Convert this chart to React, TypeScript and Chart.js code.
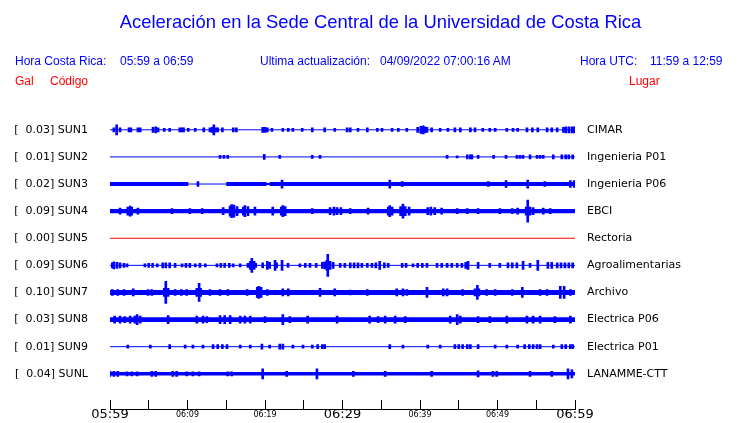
import { useEffect, useRef } from 'react';
import { Chart, registerables } from 'chart.js';

Chart.register(...registerables);

// ---- labels ----
const traceCodes = ['SUN1', 'SUN2', 'SUN3', 'SUN4', 'SUN5', 'SUN6', 'SUN7', 'SUN8', 'SUN9', 'SUNL'];
const traceGal = ['0.03', '0.01', '0.02', '0.09', '0.00', '0.09', '0.10', '0.03', '0.01', '0.04'];
const traceSites = ['CIMAR', 'Ingenieria P01', 'Ingenieria P06', 'EBCI', 'Rectoria', 'Agroalimentarias', 'Archivo', 'Electrica P06', 'Electrica P01', 'LANAMME-CTT'];
const traceColors = ['#0000ff', '#0000ff', '#0000ff', '#0000ff', '#ff0000', '#0000ff', '#0000ff', '#0000ff', '#0000ff', '#0000ff'];
const xTickLabels = ['05:59', '', '06:09', '', '06:19', '', '06:29', '', '06:39', '', '06:49', '', '06:59'];

// ---- continuous background level: [startMinute, endMinute, halfAmplitude] ----
const sun1Band = [[0, 60, 0]];
const sun2Band = [[0, 60, 0]];
const sun3Band = [[0, 10.1, 2], [10.1, 15.0, 0], [15.0, 20.2, 2], [20.2, 20.6, 1], [20.6, 60, 2]];
const sun4Band = [[0, 60, 2.2]];
const sun5Band = [[0, 60, 0]];
const sun6Band = [[0, 60, 0]];
const sun7Band = [[0, 60, 2.5]];
const sun8Band = [[0, 60, 2.3]];
const sun9Band = [[0, 60, 0]];
const sunLBand = [[0, 60, 1.7]];

// ---- bursts: [minute, halfAmplitude] ----
const sun1Spikes = [[0.5, 2], [0.86, 5], [1.3, 2], [2.45, 2], [2.7, 2], [3.6, 2], [3.9, 2], [5.55, 2.5], [5.9, 3], [6.2, 2], [7.0, 1.5], [7.7, 1.5], [9.0, 2], [9.3, 2], [9.5, 2], [10.1, 1.5], [11.0, 1.5], [12.1, 2], [12.9, 2], [13.2, 2.5], [13.4, 5], [13.7, 2], [13.9, 2], [14.5, 2], [15.9, 2], [16.3, 2], [19.7, 2.5], [20.0, 2.5], [20.3, 2], [20.9, 1.5], [22.3, 1.5], [23.0, 1.5], [23.6, 1.5], [24.8, 1.5], [26.1, 2], [27.7, 2], [29.0, 1.5], [30.6, 2], [31.0, 2], [32.0, 1.5], [33.2, 2], [34.5, 1.5], [35.1, 1.5], [36.4, 1.5], [37.2, 1.5], [38.3, 1.5], [39.7, 2.5], [40.1, 3.5], [40.4, 4], [40.6, 3], [40.9, 2.5], [41.5, 2], [42.6, 1.5], [43.6, 1.5], [44.5, 2], [45.2, 2], [46.5, 2], [47.1, 2], [48.1, 1.5], [49.0, 1.5], [49.7, 1.5], [51.2, 1.5], [52.0, 1.5], [52.6, 1.5], [53.8, 2], [54.5, 2], [55.2, 2], [56.4, 2], [57.0, 2], [57.7, 2], [58.5, 2.5], [58.8, 3], [59.2, 3], [59.6, 3], [59.9, 3]];
const sun2Spikes = [[14.2, 1.5], [14.7, 1.5], [15.2, 1.5], [19.9, 2.5], [21.9, 1.5], [26.1, 1.5], [27.1, 1.5], [43.5, 1.5], [44.8, 1], [46.1, 2], [46.5, 2], [46.7, 2], [47.5, 1.5], [49.5, 1.5], [51.1, 1.5], [52.5, 1.5], [52.9, 1.5], [53.3, 1.5], [54.2, 2], [55.1, 1.5], [55.5, 1.5], [55.9, 1.5], [57.2, 2], [58.3, 2], [58.8, 2], [59.2, 2], [59.7, 2]];
const sun3Spikes = [[11.35, 2.5], [22.2, 4], [36.1, 4], [37.7, 2.5], [48.8, 2.5], [51.1, 3.5], [53.9, 4], [56.1, 2.5], [59.4, 3.5], [59.9, 3.5]];
const sun4Spikes = [[1.3, 3], [2.3, 4], [2.6, 5], [2.8, 4], [3.6, 3], [8.0, 2.5], [10.3, 2.5], [11.9, 2.5], [14.6, 3.5], [15.5, 5], [15.7, 6.5], [16.0, 6], [16.4, 4.5], [17.2, 4], [17.4, 5.5], [17.8, 4.5], [18.7, 4], [21.0, 4], [22.1, 4], [22.3, 5.5], [22.6, 4.5], [26.1, 2.5], [28.4, 3.5], [28.9, 4], [29.3, 3.5], [29.8, 3.5], [31.0, 2.5], [33.3, 3], [35.9, 4], [36.1, 5.5], [36.4, 4], [37.5, 4.5], [37.8, 7], [38.1, 4.5], [38.6, 4], [41.0, 3.5], [41.4, 4], [41.9, 3.5], [42.8, 3], [44.8, 2.5], [46.1, 2.5], [47.5, 2.5], [50.3, 2.5], [51.9, 2.5], [52.6, 3], [53.7, 4], [53.9, 11], [54.2, 4], [54.6, 3.5], [55.9, 3], [56.8, 2.5]];
const sun5Spikes: number[][] = [];
const sun6Spikes = [[0.3, 2.5], [0.5, 3.5], [0.9, 3], [1.3, 2.5], [1.8, 2], [2.2, 1.5], [4.5, 1.5], [5.0, 2], [5.5, 2], [6.1, 1.5], [6.8, 2.5], [7.2, 2.5], [7.7, 2.5], [8.4, 2], [9.3, 1.5], [9.8, 2], [10.3, 2], [11.0, 1.5], [11.6, 2], [12.3, 1.5], [13.8, 1.5], [14.3, 2], [14.8, 2], [15.4, 2], [15.9, 1.5], [16.8, 1.5], [17.8, 2], [18.1, 4], [18.3, 7], [18.6, 4], [18.8, 2], [19.7, 2.5], [20.3, 4], [20.6, 3], [21.3, 5], [21.5, 2.5], [22.2, 5], [22.97, 2], [24.5, 1.5], [25.2, 2], [25.8, 2], [26.6, 2], [27.4, 3], [27.7, 3.5], [28.0, 5], [28.1, 11], [28.4, 4], [28.8, 3], [29.7, 2], [30.3, 2], [31.0, 2.5], [31.5, 2.5], [32.0, 2.5], [32.5, 2], [33.2, 2], [33.8, 2], [34.3, 2.5], [34.8, 4], [35.4, 2.5], [35.9, 2], [37.7, 2], [38.2, 2], [39.1, 1.5], [39.7, 2], [40.3, 2], [40.9, 2], [42.2, 2], [42.8, 2], [43.5, 2], [44.1, 2], [44.8, 2], [45.4, 2], [45.9, 3], [46.2, 4], [47.5, 3], [49.0, 2], [50.3, 2], [51.35, 2.5], [51.9, 2.5], [52.5, 2.5], [53.3, 4], [54.2, 2], [55.2, 5], [56.5, 3], [57.0, 3], [57.7, 2.5], [58.2, 2.5], [58.7, 2.5], [59.2, 2.5], [59.7, 2.5]];
const sun7Spikes = [[0.3, 3], [1.0, 3], [1.8, 3], [3.0, 3.5], [4.9, 3], [5.4, 3], [7.0, 4], [7.2, 11], [7.5, 4], [8.4, 3], [9.2, 3], [9.9, 3], [11.2, 4], [11.5, 9], [11.7, 4], [12.9, 3], [14.2, 3], [15.2, 3], [17.7, 3], [19.0, 5], [19.2, 6], [19.5, 5], [20.3, 3], [22.3, 3.5], [23.0, 3.5], [27.1, 4], [29.0, 3.5], [31.0, 2.5], [33.2, 3], [37.0, 3.5], [37.8, 3.5], [38.3, 3], [40.9, 5], [43.0, 3.5], [43.5, 3.5], [45.5, 3], [47.1, 3.5], [47.4, 7], [47.6, 3.5], [48.6, 3], [49.7, 3], [51.9, 3], [53.2, 5], [55.5, 3], [56.4, 3], [58.1, 6], [58.6, 6], [59.4, 3]];
const sun8Spikes = [[0.6, 3.5], [1.3, 3.5], [1.9, 3], [2.6, 3.5], [3.2, 3.5], [3.5, 5], [3.9, 3.5], [7.5, 4], [11.2, 3.5], [12.0, 3.5], [12.5, 3], [14.2, 4], [14.8, 4], [15.5, 4], [16.8, 3.5], [17.4, 3.5], [18.1, 3.5], [20.0, 3], [22.3, 5], [23.2, 3], [25.5, 3.5], [29.3, 3.5], [33.5, 3.5], [34.6, 3], [35.5, 3.5], [36.8, 3.5], [38.1, 3], [43.9, 3.5], [44.8, 5], [45.2, 3.5], [47.5, 3], [49.0, 3], [51.2, 3.5], [53.8, 3.5], [54.6, 3.5], [55.5, 3.5], [57.4, 3], [59.4, 3.5]];
const sun9Spikes = [[2.3, 1.5], [5.2, 1.5], [7.7, 2], [9.7, 1.5], [10.7, 1.5], [12.0, 1.5], [13.3, 2], [13.9, 2], [14.5, 2], [15.1, 2], [16.8, 1.5], [18.1, 1.5], [19.6, 2.5], [20.6, 1.5], [21.9, 2.5], [22.3, 2.5], [23.6, 1.5], [24.9, 1.5], [26.1, 1.5], [26.8, 2], [27.4, 2], [27.7, 2], [36.1, 2], [37.8, 1.5], [41.0, 1.5], [42.6, 1.5], [44.5, 2], [45.0, 2], [45.5, 2], [46.1, 2], [46.5, 2], [47.5, 2], [49.7, 1.5], [51.2, 1.5], [52.6, 1.5], [53.5, 2], [54.1, 2], [54.6, 2], [55.1, 2], [55.5, 2], [57.2, 1.5], [58.3, 2], [58.8, 2], [59.4, 2], [59.7, 2]];
const sunLSpikes = [[0.0, 2.5], [0.5, 2.5], [1.0, 2.5], [2.2, 2], [2.8, 2], [3.5, 2], [5.4, 2.5], [5.9, 2.5], [8.1, 2.5], [8.6, 2.5], [9.9, 2], [10.7, 2], [11.5, 2], [15.2, 2], [15.7, 2], [19.7, 5], [22.8, 2.5], [26.7, 5], [31.4, 2.5], [35.5, 2.5], [41.5, 2.5], [47.5, 3], [49.4, 2.5], [49.9, 2.5], [54.2, 2.5], [57.0, 2.5], [59.1, 5], [59.6, 4]];

const traceBands = [sun1Band, sun2Band, sun3Band, sun4Band, sun5Band, sun6Band, sun7Band, sun8Band, sun9Band, sunLBand];
const traceSpikes = [sun1Spikes, sun2Spikes, sun3Spikes, sun4Spikes, sun5Spikes, sun6Spikes, sun7Spikes, sun8Spikes, sun9Spikes, sunLSpikes];

const TRACE_STEP = 27;
const Y_MAX = 305.06;
const leftLabels = traceCodes.map((c, i) => `[  ${traceGal[i]}] ${c}`);

const sans = '"Liberation Sans", Arial, Helvetica, sans-serif';
const dejavu = '"DejaVu Sans", sans-serif';

const noPad = (s: any, w: number) => { s.width = w; s.paddingTop = 0; s.paddingBottom = 0; };

export default function App() {
  const canvasRef = useRef<HTMLCanvasElement>(null);

  useEffect(() => {
    const canvas = canvasRef.current;
    if (!canvas) return;
    const datasets: any[] = [];
    traceCodes.forEach((_, i) => {
      const base = (i + 1) * TRACE_STEP;
      const color = traceColors[i];
      const band = traceBands[i];
      const upper = band.flatMap(([s, e, a]) => [{ x: s, y: base - a }, { x: e, y: base - a }]);
      const lower = band.flatMap(([s, e, a]) => [{ x: s, y: base + a }, { x: e, y: base + a }]);
      datasets.push({
        type: 'line', data: [{ x: 0, y: base }, { x: 60, y: base }], borderColor: color, borderWidth: 1,
        pointRadius: 0, pointHoverRadius: 0, fill: false, tension: 0,
      });
      datasets.push({
        type: 'line', data: upper, borderColor: 'transparent', borderWidth: 0,
        pointRadius: 0, pointHoverRadius: 0, fill: false, backgroundColor: color, tension: 0,
      });
      datasets.push({
        type: 'line', data: lower, borderColor: 'transparent', borderWidth: 0,
        pointRadius: 0, pointHoverRadius: 0, fill: '-1', backgroundColor: color, tension: 0,
      });
      datasets.push({
        type: 'bar',
        data: traceSpikes[i].map(([m, a]) => ({ x: m, y: [base - a, base + a] })),
        backgroundColor: color, borderWidth: 0, barThickness: 2, grouped: false,
      });
    });

    const chart = new Chart(canvas, {
      type: 'line',
      data: { datasets },
      options: {
        animation: false,
        responsive: false,
        devicePixelRatio: 1,
        events: [],
        layout: { autoPadding: false, padding: { top: 102.7, left: 0, right: 0, bottom: 0 } },
        plugins: { legend: { display: false }, tooltip: { enabled: false }, title: { display: false } },
        scales: {
          x: {
            type: 'linear', min: 0, max: 60, offset: false, position: 'bottom',
            afterBuildTicks: (s: any) => { s.ticks = xTickLabels.map((_, i) => ({ value: i * 5 })); },
            afterFit: (s: any) => { s.height = 14; },
            ticks: {
              autoSkip: false, maxRotation: 0, minRotation: 0, padding: 7, color: '#000',
              crossAlign: 'near',
              callback: (_v: any, i: number) => xTickLabels[i],
              font: (ctx: any) => (ctx.index % 6 === 0
                ? { family: dejavu, size: 13, lineHeight: 1.2 }
                : { family: dejavu, size: 8, lineHeight: 1.9 }),
            },
            grid: { display: true, offset: false, drawOnChartArea: false, drawTicks: true, tickLength: -9, color: '#000', lineWidth: 1 },
            border: { display: true, color: '#000', width: 1 },
          },
          y: {
            type: 'linear', reverse: true, min: 0, max: Y_MAX, position: 'left',
            afterBuildTicks: (s: any) => { s.ticks = traceCodes.map((_, i) => ({ value: (i + 1) * TRACE_STEP })); },
            afterFit: (s: any) => noPad(s, 110),
            ticks: { autoSkip: false, padding: 22, color: '#000', font: { family: dejavu, size: 11 }, callback: (_v: any, i: number) => leftLabels[i] },
            grid: { display: false, drawTicks: false }, border: { display: false },
          },
          y2: {
            type: 'linear', reverse: true, min: 0, max: Y_MAX, position: 'right',
            afterBuildTicks: (s: any) => { s.ticks = traceCodes.map((_, i) => ({ value: (i + 1) * TRACE_STEP })); },
            afterFit: (s: any) => noPad(s, 165),
            ticks: { autoSkip: false, padding: 12, color: '#000', font: { family: dejavu, size: 11 }, callback: (_v: any, i: number) => traceSites[i] },
            grid: { display: false, drawTicks: false }, border: { display: false },
          },
        },
      } as any,
    });
    return () => chart.destroy();
  }, []);

  const t = (left: number, top: number, size: number, color: string, text: string) => (
    <div style={{ position: 'absolute', left, top, fontFamily: sans, fontSize: size, lineHeight: `${size + 2}px`, color, whiteSpace: 'pre' }}>{text}</div>
  );

  return (
    <div style={{ position: 'fixed', left: 0, top: 0, width: 740, height: 423, background: '#fff', overflow: 'hidden' }}>
      <canvas ref={canvasRef} width={740} height={423} style={{ position: 'absolute', left: 0, top: 0, width: 740, height: 423 }} />
      <div style={{ position: 'absolute', left: 0, top: 12, width: 761, textAlign: 'center', fontFamily: sans, fontSize: 18.4, lineHeight: '20px', color: '#0000ff' }}>
        Aceleración en la Sede Central de la Universidad de Costa Rica
      </div>
      {t(15, 54, 12, '#0000ff', 'Hora Costa Rica:')}
      {t(120, 54, 12, '#0000ff', '05:59 a 06:59')}
      {t(260, 54, 12, '#0000ff', 'Ultima actualización:')}
      {t(380, 54, 12, '#0000ff', '04/09/2022 07:00:16 AM')}
      {t(580, 54, 12, '#0000ff', 'Hora UTC:')}
      {t(650, 54, 12, '#0000ff', '11:59 a 12:59')}
      {t(15, 74, 12, '#ff0000', 'Gal')}
      {t(50, 74, 12, '#ff0000', 'Código')}
      {t(629, 74, 12, '#ff0000', 'Lugar')}
    </div>
  );
}
